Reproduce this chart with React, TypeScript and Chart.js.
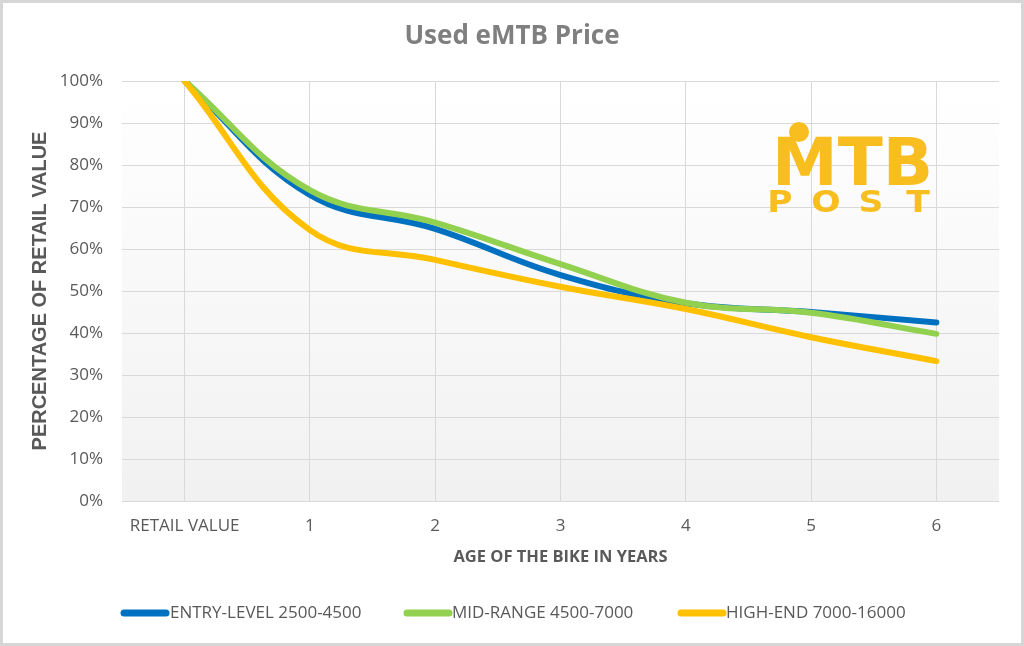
import React, { useEffect, useRef } from "react";
import { Chart, registerables } from "chart.js";

Chart.register(...registerables);

const categories = ["RETAIL VALUE", "1", "2", "3", "4", "5", "6"];
const entryLevel = [100, 72.9, 64.8, 53.8, 47.1, 45.0, 42.5];
const midRange = [100, 74.0, 66.3, 56.4, 47.2, 44.8, 39.8];
const highEnd = [100, 64.5, 57.4, 51.0, 45.7, 39.0, 33.3];
const seriesNames = ["ENTRY-LEVEL 2500-4500", "MID-RANGE 4500-7000", "HIGH-END 7000-16000"];
const seriesColors = ["#0070c0", "#92d050", "#ffc000"];
const chartTitle = "Used eMTB Price";
const xTitle = "AGE OF THE BIKE IN YEARS";
const yTitle = "PERCENTAGE OF RETAIL VALUE";
const logoTop = "MTB";
const logoBottom = ["P", "O", "S", "T"];

const TEXT = "#595959";
const GRID = "#d9d9d9";
const SANS = "'Open Sans', 'Noto Sans', sans-serif";

const decorPlugin = {
  id: "decor",
  beforeDraw(chart: any) {
    const { ctx, chartArea: a, width, height } = chart;
    ctx.save();
    ctx.fillStyle = "#ffffff";
    ctx.fillRect(0, 0, width, height);
    const g = ctx.createLinearGradient(0, a.top, 0, a.bottom);
    g.addColorStop(0, "#ffffff");
    g.addColorStop(1, "#f1f1f1");
    ctx.fillStyle = g;
    ctx.fillRect(a.left, a.top, a.right - a.left, a.bottom - a.top);
    ctx.restore();
  },
  beforeDatasetsDraw(chart: any) {
    const { ctx } = chart;
    const yellow = "#f8bd1e";
    ctx.save();
    ctx.fillStyle = yellow;
    ctx.font = "bold 64px 'DejaVu Sans', sans-serif";
    ctx.textBaseline = "alphabetic";
    ctx.textAlign = "left";
    const m = ctx.measureText(logoTop);
    const w = m.width;
    const asc = m.actualBoundingBoxAscent || 46;
    ctx.save();
    ctx.translate(772, 185);
    ctx.scale(161 / w, 50 / asc);
    ctx.fillText(logoTop, 0, 0);
    ctx.restore();
    ctx.beginPath();
    ctx.arc(799, 132, 10, 0, Math.PI * 2);
    ctx.fill();
    ctx.font = "bold 30px 'DejaVu Sans', sans-serif";
    ctx.textAlign = "center";
    const centers = [780, 826, 871, 918];
    logoBottom.forEach((ch, i) => {
      ctx.save();
      ctx.translate(centers[i], 212);
      ctx.scale(1.15, 1);
      ctx.fillText(ch, 0, 0);
      ctx.restore();
    });
    ctx.restore();
  },
  afterDraw(chart: any) {
    const { ctx, width, height } = chart;
    ctx.save();
    ctx.strokeStyle = "#d6d6d6";
    ctx.lineWidth = 3;
    ctx.strokeRect(1.5, 1.5, width - 3, height - 3);
    ctx.fillStyle = "#7f7f7f";
    ctx.font = `bold 26px ${SANS}`;
    ctx.textAlign = "center";
    ctx.textBaseline = "middle";
    ctx.fillText(chartTitle, 512, 37);
    const items = [
      { x0: 124, x1: 166, tx: 170 },
      { x0: 407, x1: 449, tx: 452 },
      { x0: 681, x1: 723, tx: 726 },
    ];
    ctx.font = `17px ${SANS}`;
    ctx.textAlign = "left";
    items.forEach((it, i) => {
      ctx.strokeStyle = seriesColors[i];
      ctx.lineWidth = 7;
      ctx.lineCap = "round";
      ctx.beginPath();
      ctx.moveTo(it.x0, 613);
      ctx.lineTo(it.x1, 613);
      ctx.stroke();
      ctx.fillStyle = TEXT;
      ctx.fillText(seriesNames[i], it.tx, 613);
    });
    ctx.restore();
  },
};

export default function App() {
  const ref = useRef<HTMLCanvasElement | null>(null);
  useEffect(() => {
    document.body.style.margin = "0";
    const canvas = ref.current;
    if (!canvas) return;
    const series = [entryLevel, midRange, highEnd];
    const chart = new Chart(canvas, {
      type: "line",
      data: {
        labels: categories,
        datasets: series.map((d, i) => ({
          label: seriesNames[i],
          data: d,
          borderColor: seriesColors[i],
          backgroundColor: seriesColors[i],
          borderWidth: 6,
          borderCapStyle: "round" as const,
          borderJoinStyle: "round" as const,
          pointRadius: 0,
          tension: 0.4,
          fill: false,
          order: 2 - i,
        })),
      },
      options: {
        responsive: false,
        animation: false,
        devicePixelRatio: 1,
        layout: { padding: { top: 81, right: 25, bottom: 65, left: 0 } },
        plugins: {
          legend: { display: false },
          title: { display: false },
          tooltip: { enabled: false },
        },
        scales: {
          x: {
            offset: true,
            grid: { color: GRID, lineWidth: 1, offset: false, drawTicks: false },
            border: { display: false },
            ticks: { color: TEXT, padding: 15, font: { family: SANS, size: 17 }, maxRotation: 0 },
            title: {
              display: true,
              text: xTitle,
              color: TEXT,
              font: { family: SANS, size: 16.5, weight: "bold" },
              padding: { top: 0, bottom: 14 },
            },
            afterFit: (s: any) => {
              s.height = 80;
            },
          },
          y: {
            min: 0,
            max: 100,
            grid: { color: GRID, lineWidth: 1, drawTicks: false },
            border: { display: false },
            ticks: {
              stepSize: 10,
              color: TEXT,
              padding: 19,
              font: { family: SANS, size: 17 },
              callback: (v: any) => `${v}%`,
            },
            title: {
              display: true,
              text: yTitle,
              color: TEXT,
              font: { family: "'Liberation Sans', Arial, sans-serif", size: 20, weight: "bold" },
              padding: { top: 28, bottom: 0 },
            },
            afterFit: (s: any) => {
              s.width = 122;
            },
          },
        },
      },
      plugins: [decorPlugin],
    });
    return () => chart.destroy();
  }, []);
  return (
    <div style={{ position: "absolute", left: 0, top: 0, width: 1024, height: 646 }}>
      <canvas ref={ref} width={1024} height={646} style={{ display: "block" }} />
    </div>
  );
}
